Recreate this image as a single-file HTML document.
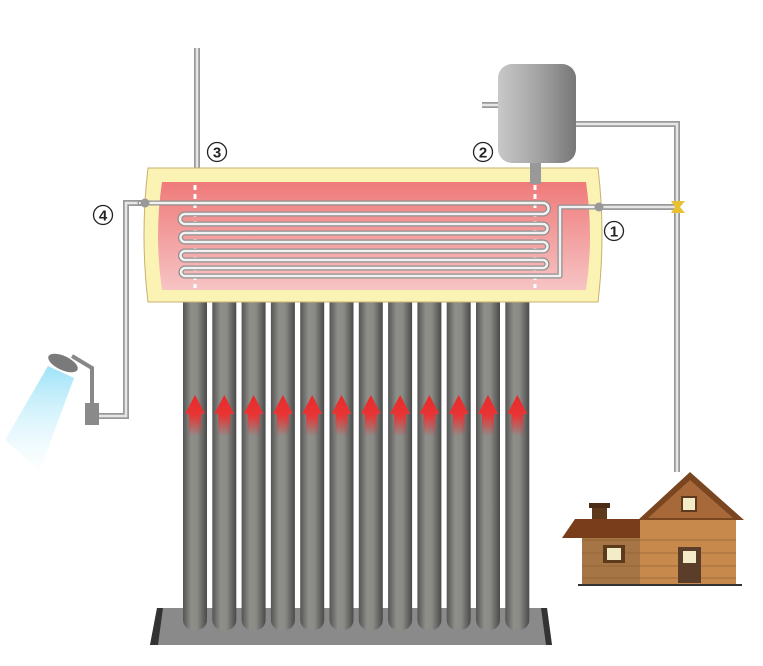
<!DOCTYPE html>
<html><head><meta charset="utf-8"><style>html,body{margin:0;padding:0;background:#fff}svg{display:block}</style></head><body>
<svg width="763" height="666" viewBox="0 0 763 666" xmlns="http://www.w3.org/2000/svg" font-family="Liberation Sans, sans-serif">
<defs>
<linearGradient id="tube" x1="0" x2="1" y1="0" y2="0"><stop offset="0" stop-color="#555"/><stop offset="0.35" stop-color="#8f8f8a"/><stop offset="0.6" stop-color="#8a8a86"/><stop offset="1" stop-color="#4a4a4a"/></linearGradient>
<linearGradient id="tank2" x1="0" x2="1"><stop offset="0" stop-color="#c8c8c8"/><stop offset="0.5" stop-color="#a5a5a5"/><stop offset="1" stop-color="#777"/></linearGradient>
<linearGradient id="pink" x1="0" x2="0" y1="0" y2="1"><stop offset="0" stop-color="#ef7a7a"/><stop offset="1" stop-color="#f7c4c4"/></linearGradient>
<linearGradient id="arr" x1="0" x2="0" y1="0" y2="1"><stop offset="0" stop-color="#e82a2a"/><stop offset="0.5" stop-color="#e83535"/><stop offset="1" stop-color="#e83535" stop-opacity="0"/></linearGradient>
<linearGradient id="water" x1="0" x2="0" y1="0" y2="1"><stop offset="0" stop-color="#3cc6f0"/><stop offset="1" stop-color="#bfeefc" stop-opacity="0.1"/></linearGradient>
</defs>
<polygon points="157,608 547,608 552,645 150,645" fill="#8a8a8a"/>
<polygon points="157,608 163,608 158,645 150,645" fill="#333"/>
<polygon points="541,608 547,608 552,645 546,645" fill="#333"/>
<g>
<rect x="183" y="290" width="24" height="340" rx="10" fill="url(#tube)"/>
<rect x="212.3" y="290" width="24" height="340" rx="10" fill="url(#tube)"/>
<rect x="241.6" y="290" width="24" height="340" rx="10" fill="url(#tube)"/>
<rect x="270.9" y="290" width="24" height="340" rx="10" fill="url(#tube)"/>
<rect x="300.2" y="290" width="24" height="340" rx="10" fill="url(#tube)"/>
<rect x="329.5" y="290" width="24" height="340" rx="10" fill="url(#tube)"/>
<rect x="358.8" y="290" width="24" height="340" rx="10" fill="url(#tube)"/>
<rect x="388.1" y="290" width="24" height="340" rx="10" fill="url(#tube)"/>
<rect x="417.4" y="290" width="24" height="340" rx="10" fill="url(#tube)"/>
<rect x="446.7" y="290" width="24" height="340" rx="10" fill="url(#tube)"/>
<rect x="476" y="290" width="24" height="340" rx="10" fill="url(#tube)"/>
<rect x="505.3" y="290" width="24" height="340" rx="10" fill="url(#tube)"/>
</g>
<g fill="url(#arr)">
<polygon points="195,395 185,414 189,414 189,436 201,436 201,414 205,414"/>
<polygon points="224.3,395 214.3,414 218.3,414 218.3,436 230.3,436 230.3,414 234.3,414"/>
<polygon points="253.6,395 243.6,414 247.6,414 247.6,436 259.6,436 259.6,414 263.6,414"/>
<polygon points="282.9,395 272.9,414 276.9,414 276.9,436 288.9,436 288.9,414 292.9,414"/>
<polygon points="312.2,395 302.2,414 306.2,414 306.2,436 318.2,436 318.2,414 322.2,414"/>
<polygon points="341.5,395 331.5,414 335.5,414 335.5,436 347.5,436 347.5,414 351.5,414"/>
<polygon points="370.8,395 360.8,414 364.8,414 364.8,436 376.8,436 376.8,414 380.8,414"/>
<polygon points="400.1,395 390.1,414 394.1,414 394.1,436 406.1,436 406.1,414 410.1,414"/>
<polygon points="429.4,395 419.4,414 423.4,414 423.4,436 435.4,436 435.4,414 439.4,414"/>
<polygon points="458.7,395 448.7,414 452.7,414 452.7,436 464.7,436 464.7,414 468.7,414"/>
<polygon points="488,395 478,414 482,414 482,436 494,436 494,414 498,414"/>
<polygon points="517.3,395 507.3,414 511.3,414 511.3,436 523.3,436 523.3,414 527.3,414"/>
</g>
<g fill="none">
<g stroke="#9a9a9a" stroke-width="6">
<path d="M197,48 V185"/><path d="M576,124 H677 V472"/><path d="M596,207 H677"/><path d="M482,105 H498"/><path d="M145,203 H126 V416 H98"/>
</g>
<g stroke="#e6e6e6" stroke-width="2.5">
<path d="M197,48 V185"/><path d="M576,124 H677 V472"/><path d="M596,207 H677"/><path d="M482,105 H498"/><path d="M145,203 H126 V416 H98"/>
</g>
</g>
<path d="M671,201 L685,201 L680,207 L685,213 L671,213 L675,207 Z" fill="#e8c030"/>
<path d="M148,168 H598 Q606,235 598,302 H148 Q140,235 148,168 Z" fill="#fbf3b4" stroke="#c9b070" stroke-width="1"/>
<path d="M162,182 H586 Q594,236 586,290 H162 Q154,236 162,182 Z" fill="url(#pink)"/>
<g stroke="#fff" stroke-width="3" stroke-dasharray="5,4"><path d="M195,185 V288"/><path d="M535,185 V288"/></g>
<g fill="none" stroke-linecap="round" stroke-linejoin="round">
<path d="M140,203 H543 A5.5,5.5 0 0 1 543,214 H185 A5,5 0 0 0 185,224 H543 A4.5,4.5 0 0 1 543,233 H185 A4.5,4.5 0 0 0 185,242 H543 A4.5,4.5 0 0 1 543,251 H185 A4.5,4.5 0 0 0 185,260 H543 A4,4 0 0 1 543,268 H185 A4,4 0 0 0 185,276 H560 V207 H598" stroke="#8f8f8f" stroke-width="5"/>
<path d="M140,203 H543 A5.5,5.5 0 0 1 543,214 H185 A5,5 0 0 0 185,224 H543 A4.5,4.5 0 0 1 543,233 H185 A4.5,4.5 0 0 0 185,242 H543 A4.5,4.5 0 0 1 543,251 H185 A4.5,4.5 0 0 0 185,260 H543 A4,4 0 0 1 543,268 H185 A4,4 0 0 0 185,276 H560 V207 H598" stroke="#f2f2f2" stroke-width="2.5"/>
</g>
<circle cx="145" cy="203" r="4.5" fill="#999"/>
<circle cx="599" cy="207" r="4.5" fill="#999"/>
<rect x="530" y="158" width="11" height="26" fill="#999"/>
<rect x="498" y="64" width="78" height="99" rx="14" fill="url(#tank2)"/>
<g font-size="15" font-weight="bold" text-anchor="middle" fill="#222">
<circle cx="217" cy="152" r="9.5" fill="none" stroke="#222" stroke-width="1.3"/><text x="217" y="157.5">3</text>
<circle cx="483" cy="152" r="9.5" fill="none" stroke="#222" stroke-width="1.3"/><text x="483" y="157.5">2</text>
<circle cx="103" cy="215" r="9.5" fill="none" stroke="#222" stroke-width="1.3"/><text x="103" y="220.5">4</text>
<circle cx="614" cy="231" r="9.5" fill="none" stroke="#222" stroke-width="1.3"/><text x="614" y="236.5">1</text>
</g>
<rect x="85" y="403" width="14" height="22" fill="#8a8a8a"/>
<path d="M92,403 V368 L72,356" fill="none" stroke="#888" stroke-width="4"/>
<ellipse cx="63" cy="363" rx="16" ry="7" transform="rotate(25 63 363)" fill="#7a7a7a"/>
<polygon points="48,366 74,378 40,470 5,440" fill="url(#water)" opacity="0.5"/>
<rect x="582" y="527" width="60" height="58" fill="#a57545"/>
<rect x="640" y="520" width="96" height="65" fill="#c78a4c"/>
<g stroke="#8b5c30" stroke-width="1" opacity="0.6"><path d="M582,540 H736 M582,553 H736 M582,566 H736 M582,578 H736"/></g>
<polygon points="690,472 744,520 638,520" fill="#7a4620"/>
<polygon points="690,480 733,518 648,518" fill="#a8693a"/>
<rect x="592" y="505" width="15" height="17" fill="#5e3a1c"/>
<rect x="589" y="503" width="21" height="5" fill="#4a2d14"/>
<polygon points="575,519 640,519 640,538 562,538" fill="#7a3d1c"/>
<rect x="603" y="545" width="22" height="18" fill="#5e3a1c"/><rect x="607" y="548" width="14" height="12" fill="#f3ecc8"/>
<rect x="682" y="497" width="14" height="14" fill="#f3ecc8" stroke="#5e3a1c" stroke-width="2"/>
<rect x="678" y="547" width="23" height="36" fill="#5a3e2a"/><rect x="683" y="551" width="13" height="12" fill="#f3ecc8"/>
<path d="M578,585 H742" stroke="#333" stroke-width="2"/>
</svg>
</body></html>
